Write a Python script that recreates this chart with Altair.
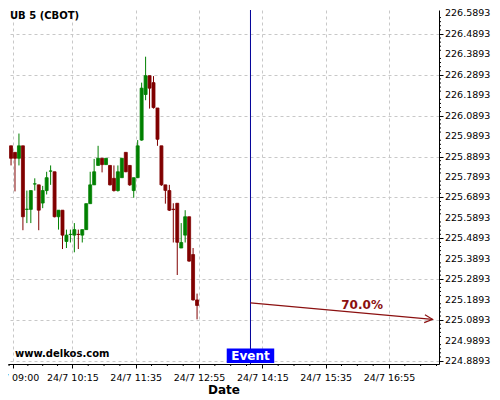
import altair as alt
import pandas as pd

DAY = "2015-07-24"
TITLE = "UB 5 (CBOT)"
WATERMARK = "www.delkos.com"

bar_times = ["08:55", "09:00", "09:05", "09:10", "09:15", "09:20", "09:25", "09:30",
             "09:35", "09:40", "09:45", "09:50", "09:55", "10:00", "10:05", "10:10",
             "10:15", "10:20", "10:25", "10:30", "10:35", "10:40", "10:45", "10:50",
             "10:55", "11:00", "11:05", "11:10", "11:15", "11:20", "11:25", "11:30",
             "11:35", "11:40", "11:45", "11:50", "11:55", "12:00", "12:05", "12:10",
             "12:15", "12:20", "12:25", "12:30", "12:35", "12:40", "12:45", "12:50"]

opens = [225.942, 225.910, 225.881, 225.942, 225.631, 225.631, 225.755, 225.751,
         225.662, 225.723, 225.818, 225.815, 225.595, 225.627, 225.474, 225.508,
         225.505, 225.509, 225.505, 225.532, 225.659, 225.751, 225.846, 225.881,
         225.850, 225.846, 225.783, 225.723, 225.786, 225.910, 225.846, 225.723,
         225.786, 225.970, 226.193, 226.285, 226.251, 226.127, 225.942, 225.751,
         225.723, 225.632, 225.661, 225.442, 225.505, 225.595, 225.410, 225.188]
highs = [225.942, 225.910, 226.002, 225.942, 225.723, 225.723, 225.783, 225.751,
         225.746, 225.815, 225.846, 225.815, 225.627, 225.627, 225.532, 225.532,
         225.564, 225.532, 225.532, 225.659, 225.815, 225.878, 225.942, 225.881,
         225.881, 225.846, 225.846, 225.846, 225.881, 225.910, 225.846, 225.786,
         225.970, 226.251, 226.378, 226.285, 226.283, 226.127, 225.942, 225.751,
         225.751, 225.661, 225.661, 225.564, 225.627, 225.595, 225.442, 225.219]
lows = [225.846, 225.719, 225.846, 225.529, 225.564, 225.564, 225.723, 225.529,
        225.637, 225.704, 225.751, 225.592, 225.532, 225.437, 225.442, 225.469,
        225.421, 225.437, 225.469, 225.532, 225.659, 225.751, 225.846, 225.812,
        225.850, 225.748, 225.718, 225.718, 225.786, 225.813, 225.746, 225.688,
        225.784, 225.967, 226.165, 226.124, 226.124, 225.942, 225.746, 225.659,
        225.623, 225.469, 225.310, 225.442, 225.469, 225.375, 225.185, 225.093]
closes = [225.881, 225.881, 225.942, 225.595, 225.632, 225.723, 225.756, 225.627,
          225.723, 225.786, 225.819, 225.595, 225.627, 225.505, 225.505, 225.509,
          225.532, 225.508, 225.532, 225.659, 225.751, 225.815, 225.881, 225.850,
          225.881, 225.751, 225.723, 225.815, 225.881, 225.815, 225.751, 225.786,
          225.942, 226.224, 226.285, 226.224, 226.129, 225.974, 225.751, 225.724,
          225.627, 225.630, 225.470, 225.469, 225.595, 225.378, 225.188, 225.161]

y_ticks = [round(224.8893 + 0.1 * k, 4) for k in range(18)]
x_tick_times = [(9, 0), (10, 15), (11, 35), (12, 55), (14, 15), (15, 35), (16, 55)]

event_time = "14:00"
arrow_start = ("14:00", 225.174)
arrow_end = ("17:50", 225.093)
prob_label = ("16:21", 225.165, "70.0%")
event_box = ("13:30", "14:30", 224.880, 224.951)

GREEN = "#008000"
RED = "#800000"
ARROW = "#8b1010"
XT = "Date"
YT = ""
W, H = 431, 354


def ts(hm):
    return pd.Timestamp(f"{DAY} {hm}")


df = pd.DataFrame({
    "t": [ts(t) + pd.Timedelta(minutes=2.5) for t in bar_times],
    "open": opens, "high": highs, "low": lows, "close": closes,
})
df["dir"] = ["up" if c >= o else "down" for o, c in zip(opens, closes)]


def dt(h, m, s=0):
    return alt.DateTime(year=2015, month=7, date=24, hours=h, minutes=m, seconds=s)


xscale = alt.Scale(domain=[dt(8, 53, 40), dt(17, 58, 10)], nice=False, padding=0)
yscale = alt.Scale(domain=[224.8746, 226.6064], nice=False, zero=False, padding=0)

grid_kw = dict(grid=True, gridColor="#c8c8c8", gridDash=[3, 3], gridWidth=1,
               domainColor="#000000", tickColor="#000000", labelColor="#000000",
               labelFont="DejaVu Sans", labelFontSize=9.5, tickSize=4)

xaxis = alt.Axis(values=[dt(h, m) for h, m in x_tick_times], format="%-d/%-m %H:%M",
                 title=XT, titleFont="DejaVu Sans", titleFontSize=12,
                 titleFontWeight="bold", titleColor="#000000", titlePadding=3,
                 labelPadding=4, labelOverlap=False, labelFlush=False, **grid_kw)
yaxis = alt.Axis(values=y_ticks, orient="right", title=YT, labels=False, **grid_kw)

cscale = alt.Scale(domain=["up", "down"], range=[GREEN, RED])

base = alt.Chart(df)
wicks = base.mark_rule(strokeWidth=1).encode(
    x=alt.X("t:T", scale=xscale, axis=xaxis),
    y=alt.Y("low:Q", scale=yscale, axis=yaxis),
    y2="high:Q",
    color=alt.Color("dir:N", scale=cscale, legend=None),
)
bodies = base.mark_bar(size=3, strokeWidth=0.8).encode(
    x=alt.X("t:T", title=XT),
    y=alt.Y("open:Q", title=YT),
    y2="close:Q",
    color=alt.Color("dir:N", scale=cscale, legend=None),
    stroke=alt.Stroke("dir:N", scale=cscale, legend=None),
)

# y tick labels (drawn through the y scale)
ylab_df = pd.DataFrame({"v": y_ticks})
y_labels = alt.Chart(ylab_df).mark_text(
    font="DejaVu Sans", fontSize=9.5, color="#000000", align="left",
    baseline="middle").encode(
    y=alt.Y("v:Q", title=YT), x=alt.value(W + 6), text=alt.Text("v:Q", format=".4f"))

# minor ticks (axis decoration)
y_minor = pd.DataFrame({"m": [224.8893 + 0.02 * k for k in range(86) if k % 5]})
y_minor_ticks = alt.Chart(y_minor).mark_rule(color="#000000", strokeWidth=1).encode(
    y=alt.Y("m:Q", title=YT), x=alt.value(W), x2=alt.value(W + 2))

x_minor_list = []
majors = [ts(f"{h:02d}:{m:02d}") for h, m in x_tick_times]
for a, b in zip(majors[:-1], majors[1:]):
    step = (b - a) / 4
    x_minor_list += [a + step * k for k in (1, 2, 3)]
x_minor_list += [majors[-1] + pd.Timedelta(minutes=20) * k for k in (1, 2, 3)]
x_minor_list += [majors[0] - pd.Timedelta(minutes=5)]
x_minor = pd.DataFrame({"m": x_minor_list})
x_minor_ticks = alt.Chart(x_minor).mark_rule(color="#000000", strokeWidth=1).encode(
    x=alt.X("m:T", title=XT), y=alt.value(H), y2=alt.value(H + 2))

ev_df = pd.DataFrame({"t": [ts(event_time)]})
event_line = alt.Chart(ev_df).mark_rule(color="#000099", strokeWidth=1).encode(
    x=alt.X("t:T", title=XT))

arr_df = pd.DataFrame({"t": [ts(arrow_start[0])], "v": [arrow_start[1]],
                       "t2": [ts(arrow_end[0])], "v2": [arrow_end[1]]})
arrow = alt.Chart(arr_df).mark_rule(color=ARROW, strokeWidth=1.2).encode(
    x=alt.X("t:T", title=XT), x2="t2:T", y=alt.Y("v:Q", title=YT), y2="v2:Q")
arrow_head = alt.Chart(arr_df).mark_point(
    shape="M-2,-1L0,0L-2,1", filled=False, size=64, angle=5.3,
    color=ARROW, strokeWidth=1.2, opacity=1).encode(
    x=alt.X("t2:T", title=XT), y=alt.Y("v2:Q", title=YT))

lab_df = pd.DataFrame({"t": [ts(prob_label[0])], "v": [prob_label[1]],
                       "s": [prob_label[2]]})
prob_text = alt.Chart(lab_df).mark_text(
    font="DejaVu Sans", fontSize=12, fontWeight="bold", color=ARROW,
    baseline="middle", align="center").encode(
    x=alt.X("t:T", title=XT), y=alt.Y("v:Q", title=YT), text="s:N")

box_df = pd.DataFrame({"t": [ts(event_box[0])], "t2": [ts(event_box[1])],
                       "v": [event_box[2]], "v2": [event_box[3]],
                       "tc": [ts(event_time)], "vc": [(event_box[2] + event_box[3]) / 2],
                       "s": ["Event"]})
box = alt.Chart(box_df).mark_rect(color="#0000ff").encode(
    x=alt.X("t:T", title=XT), x2="t2:T", y=alt.Y("v:Q", title=YT), y2="v2:Q")
box_text = alt.Chart(box_df).mark_text(
    font="DejaVu Sans", fontSize=12, fontWeight="bold", color="#ffffff",
    baseline="middle", align="center", dy=0.5).encode(
    x=alt.X("tc:T", title=XT), y=alt.Y("vc:Q", title=YT), text="s:N")

txt_df = pd.DataFrame({"s": [TITLE]})
title_text = alt.Chart(txt_df).mark_text(
    font="DejaVu Sans", fontSize=10, fontWeight="bold", color="#000000",
    align="left", baseline="middle").encode(
    x=alt.value(2), y=alt.value(6), text="s:N")
wm_df = pd.DataFrame({"s": [WATERMARK]})
wm_text = alt.Chart(wm_df).mark_text(
    font="DejaVu Sans", fontSize=10, fontWeight="bold", color="#000000",
    align="left", baseline="middle").encode(
    x=alt.value(7), y=alt.value(344), text="s:N")

chart = alt.layer(
    wicks, bodies, y_labels, y_minor_ticks, x_minor_ticks, event_line, arrow,
    arrow_head, prob_text, box, box_text, title_text, wm_text,
).properties(
    width=W, height=H,
    padding={"left": 0, "top": 2, "right": 52, "bottom": 36},
    autosize=alt.AutoSizeParams(type="none"),
    background="#ffffff",
).configure(font="DejaVu Sans").configure_view(strokeWidth=0)

chart.save("out.html", embed_options={"renderer": "svg", "actions": False})
